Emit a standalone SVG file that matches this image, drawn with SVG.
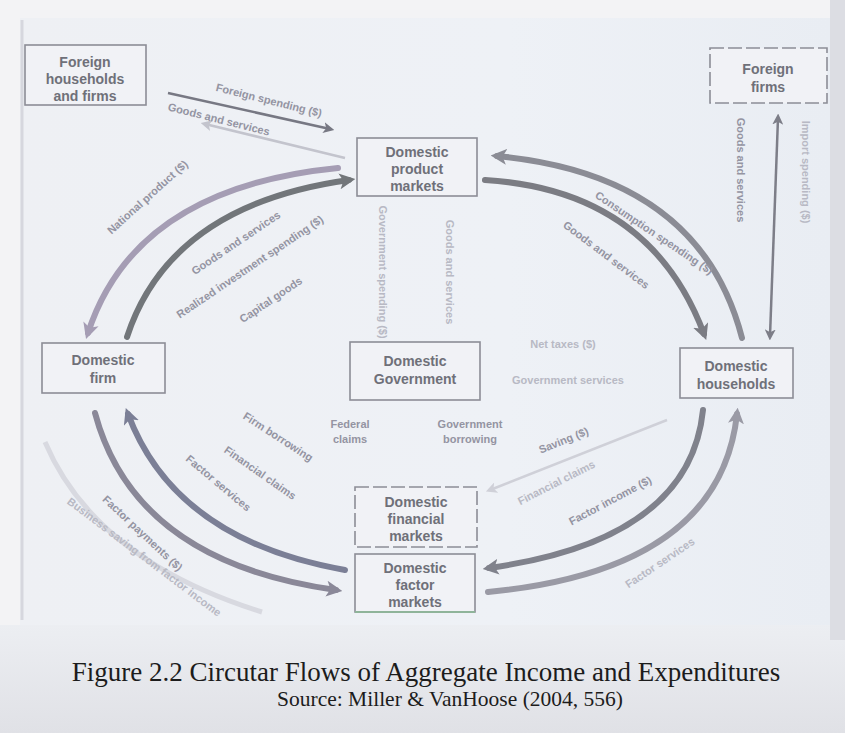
<svg xmlns="http://www.w3.org/2000/svg" width="845" height="733" viewBox="0 0 845 733">
<defs>
<linearGradient id="bg" x1="0" y1="0" x2="1" y2="0">
<stop offset="0" stop-color="#eef0f4"/><stop offset="0.6" stop-color="#eef1f6"/><stop offset="1" stop-color="#e9edf3"/>
</linearGradient>
<linearGradient id="cap" x1="0" y1="0" x2="0" y2="1">
<stop offset="0" stop-color="#eceef2"/><stop offset="1" stop-color="#e0e1e6"/>
</linearGradient>
<marker id="ah" viewBox="0 0 10 10" refX="6" refY="5" markerWidth="16" markerHeight="16" markerUnits="userSpaceOnUse" orient="auto">
<path d="M0,0 L10,5 L0,10 L2.5,5 Z" fill="context-stroke"/>
</marker>
<marker id="ahs" viewBox="0 0 10 10" refX="6" refY="5" markerWidth="11" markerHeight="11" markerUnits="userSpaceOnUse" orient="auto-start-reverse">
<path d="M0,0 L10,5 L0,10 L2.5,5 Z" fill="context-stroke"/>
</marker>
</defs>
<style>
.box{fill:#f1f2f6;stroke:#8c8d96;stroke-width:1.6}
.dash{stroke-dasharray:14 4}
.nt{font-family:"Liberation Sans",Arial,sans-serif;font-weight:bold;font-size:14px;fill:#6f7079;text-anchor:middle}
.lb{font-family:"Liberation Sans",Arial,sans-serif;font-weight:bold;font-size:11px;fill:#9494a2;text-anchor:middle}
.fa{fill:#b8b9c4}
.arc{fill:none;stroke-width:6;stroke-linecap:round}
.thin{fill:none;stroke-width:2.5}
.cap{font-family:"Liberation Serif","Times New Roman",serif;fill:#1c1c1c;text-anchor:middle}
</style>
<rect x="0" y="0" width="845" height="733" fill="#f3f3f5"/>
<rect x="20" y="18" width="810" height="612" fill="url(#bg)"/>
<rect x="0" y="625" width="845" height="108" fill="url(#cap)"/>
<line x1="22" y1="20" x2="22" y2="620" stroke="#d6d7de" stroke-width="3"/>
<rect x="830" y="0" width="15" height="640" fill="#dcdde3"/>

<g id="connectors">
<line class="thin" x1="168" y1="93" x2="330" y2="129" stroke="#777883" marker-end="url(#ahs)"/>
<line class="thin" x1="345" y1="158" x2="205" y2="124" stroke="#c3c4cd" stroke-width="3" marker-end="url(#ahs)"/>
<path class="arc" d="M338,168 Q135,188 88,333" stroke="#a59db4" marker-end="url(#ah)"/>
<path class="arc" d="M127,337 Q170,205 349,180" stroke="#72767a" marker-end="url(#ah)"/>
<path class="arc" d="M742,338 Q700,175 497,156" stroke="#8b8c95" marker-end="url(#ah)"/>
<path class="arc" d="M485,180 Q650,190 704,334" stroke="#7b7c83" marker-end="url(#ah)"/>
<line class="thin" x1="778" y1="118" x2="770" y2="336" stroke="#7d7e88" marker-start="url(#ahs)" marker-end="url(#ahs)"/>
<path class="arc" d="M345,570 Q175,540 128,414" stroke="#7b7f96" marker-end="url(#ah)"/>
<path class="arc" d="M95,413 Q135,562 336,590" stroke="#8a8898" marker-end="url(#ah)"/>
<path class="arc" d="M703,410 Q690,540 489,568" stroke="#80828c" marker-end="url(#ah)"/>
<path class="arc" d="M488,592 Q720,570 737,414" stroke="#9a9aa5" marker-end="url(#ah)"/>
<line class="thin" x1="667" y1="420" x2="490" y2="490" stroke="#cfd0d8" stroke-width="3" marker-end="url(#ahs)"/>
<path d="M45,442 Q95,560 262,612" fill="none" stroke="#d8d9e0" stroke-width="5"/>
</g>

<g id="labels">
<text class="lb" transform="translate(268,104) rotate(14)">Foreign spending ($)</text>
<text class="lb" transform="translate(218,123) rotate(14)">Goods and services</text>
<text class="lb" transform="translate(150,200) rotate(-42)">National product ($)</text>
<text class="lb" transform="translate(238,246) rotate(-34)">Goods and services</text>
<text class="lb" transform="translate(252,270) rotate(-34)" fill="#92a29a">Realized investment spending ($)</text>
<text class="lb" transform="translate(273,303) rotate(-34)" fill="#9a98b8">Capital goods</text>
<text class="lb" transform="translate(652,236) rotate(34)">Consumption spending ($)</text>
<text class="lb" transform="translate(604,258) rotate(37)">Goods and services</text>
<text class="lb" transform="translate(737,170) rotate(90)">Goods and services</text>
<text class="lb fa" transform="translate(802,172) rotate(90)">Import spending ($)</text>
<text class="lb fa" transform="translate(379,272) rotate(90)">Government spending ($)</text>
<text class="lb fa" transform="translate(446,272) rotate(90)">Goods and services</text>
<text class="lb fa" x="563" y="348">Net taxes ($)</text>
<text class="lb fa" x="568" y="384">Government services</text>
<text class="lb" x="350" y="428">Federal</text>
<text class="lb" x="350" y="443">claims</text>
<text class="lb" x="470" y="428">Government</text>
<text class="lb" x="470" y="443">borrowing</text>
<text class="lb" transform="translate(565,444) rotate(-22)">Saving ($)</text>
<text class="lb fa" transform="translate(558,486) rotate(-27)">Financial claims</text>
<text class="lb" transform="translate(276,440) rotate(33)" fill="#8a8ab8">Firm borrowing</text>
<text class="lb" transform="translate(258,476) rotate(35)">Financial claims</text>
<text class="lb" transform="translate(216,486) rotate(40)">Factor services</text>
<text class="lb" transform="translate(140,536) rotate(43)">Factor payments ($)</text>
<text class="lb fa" transform="translate(142,560) rotate(37)" font-size="10">Business saving from factor income</text>
<text class="lb" transform="translate(612,504) rotate(-28)">Factor income ($)</text>
<text class="lb fa" transform="translate(662,566) rotate(-34)">Factor services</text>
</g>

<g id="foreign-households-firms">
<rect class="box" x="25" y="45" width="121" height="60"/>
<text class="nt" x="85" y="67">Foreign</text>
<text class="nt" x="85" y="84">households</text>
<text class="nt" x="85" y="101">and firms</text>
</g>
<g id="domestic-product-markets">
<rect class="box" x="357" y="138" width="120" height="58"/>
<text class="nt" x="417" y="157">Domestic</text>
<text class="nt" x="417" y="174">product</text>
<text class="nt" x="417" y="191">markets</text>
</g>
<g id="foreign-firms">
<rect class="box dash" x="710" y="48" width="117" height="55"/>
<text class="nt" x="768" y="74">Foreign</text>
<text class="nt" x="768" y="92" fill="#9a9ba6">firms</text>
</g>
<g id="domestic-firm">
<rect class="box" x="42" y="343" width="123" height="50"/>
<text class="nt" x="103" y="365">Domestic</text>
<text class="nt" x="103" y="383">firm</text>
</g>
<g id="domestic-government">
<rect class="box" x="350" y="342" width="130" height="58"/>
<text class="nt" x="415" y="366">Domestic</text>
<text class="nt" x="415" y="384">Government</text>
</g>
<g id="domestic-households">
<rect class="box" x="680" y="348" width="113" height="50"/>
<text class="nt" x="736" y="371">Domestic</text>
<text class="nt" x="736" y="389">households</text>
</g>
<g id="domestic-financial-markets">
<rect class="box dash" x="355" y="487" width="122" height="60"/>
<text class="nt" x="416" y="507">Domestic</text>
<text class="nt" x="416" y="524">financial</text>
<text class="nt" x="416" y="541">markets</text>
</g>
<g id="domestic-factor-markets">
<rect class="box" x="355" y="554" width="120" height="58"/>
<line x1="355" y1="612" x2="475" y2="612" stroke="#8fb49a" stroke-width="2"/>
<text class="nt" x="415" y="573">Domestic</text>
<text class="nt" x="415" y="590">factor</text>
<text class="nt" x="415" y="607" fill="#7fa38a">markets</text>
</g>

<text class="cap" x="426" y="681" font-size="27">Figure 2.2 Circutar Flows of Aggregate Income and Expenditures</text>
<text class="cap" x="450" y="706" font-size="21.5">Source: Miller &amp; VanHoose (2004, 556)</text>
</svg>
